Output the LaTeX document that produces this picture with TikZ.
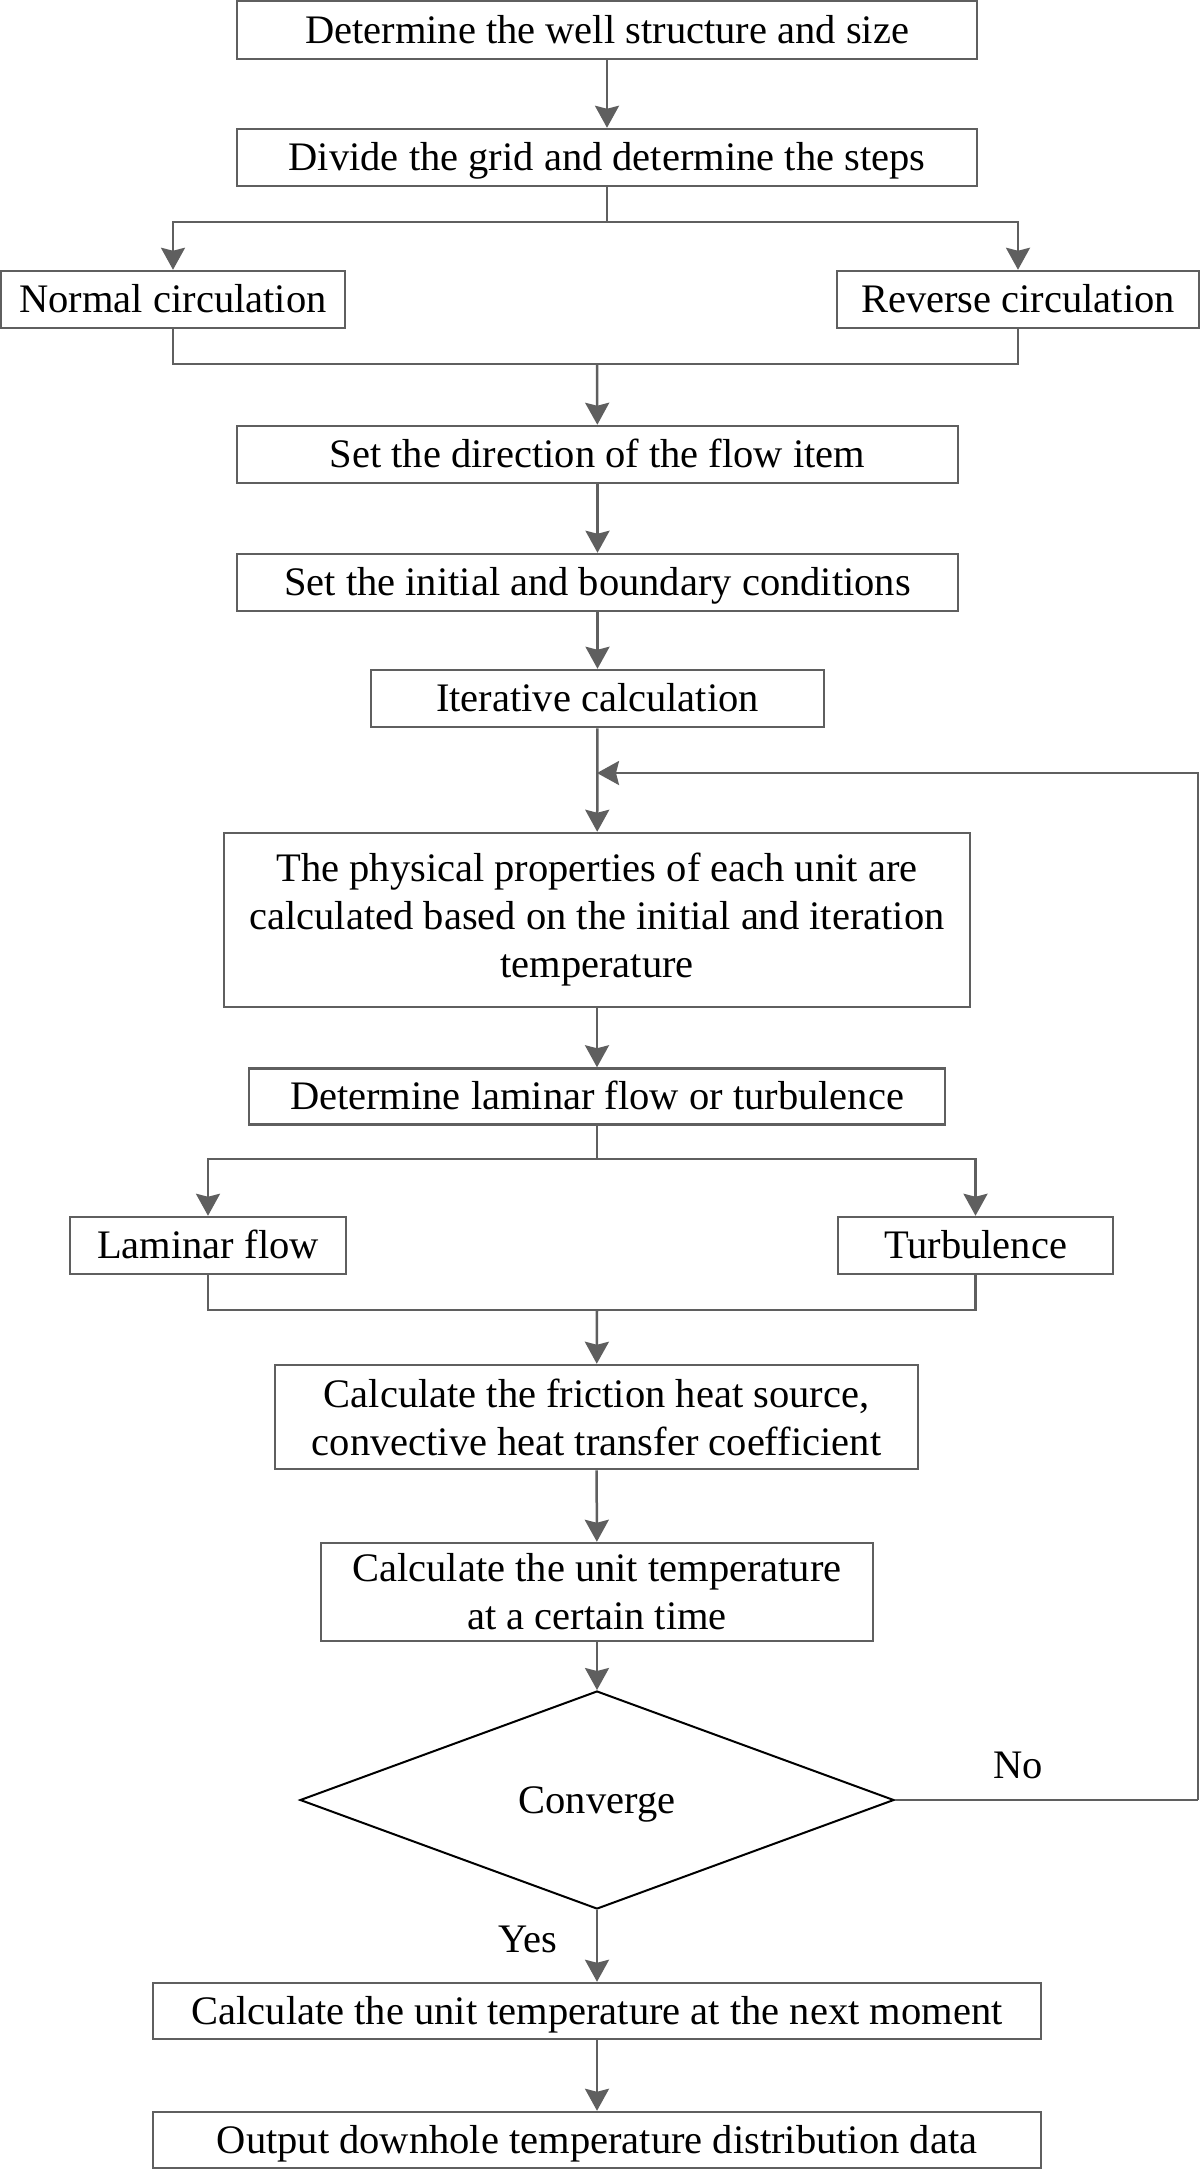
\documentclass[tikz,border=0pt]{standalone}
\usepackage{fontspec}
\setmainfont{Liberation Serif}
\usetikzlibrary{shapes.geometric,arrows.meta}
\definecolor{lgray}{RGB}{95,95,95}
\newcommand{\myfs}{\fontsize{20.25pt}{24pt}\selectfont}
\begin{document}
\begin{tikzpicture}[x=0.5pt,y=0.5pt,
 mbox/.style={draw=lgray,line width=1.25pt,fill=white,inner sep=0pt,align=center,font=\myfs},
 box/.style={mbox,text height=13.4pt,text depth=0pt},
 conn/.style={draw=lgray,line width=1.25pt},
 arr/.style={conn,-{Stealth[length=11pt,width=12pt,inset=1.5pt]}},
 lbl/.style={font=\myfs,inner sep=0pt},
 dec/.style={diamond,draw=black,line width=1pt,inner sep=0pt,aspect=2.72,font=\myfs,text height=13.4pt,text depth=0pt,minimum width=297pt,minimum height=109pt}]
\useasboundingbox (0,0) rectangle (1200,-2170);
\fill[white] (0,0) rectangle (1200,-2170);

\node[box,minimum width=370pt,minimum height=29pt] (b1) at (607,-30) {Determine the well structure and size};
\node[box,minimum width=370pt,minimum height=28.5pt] (b2) at (607,-157.5) {Divide the grid and determine the steps};
\node[box,minimum width=172pt,minimum height=28.5pt] (normal) at (173,-299.5) {Normal circulation};
\node[box,minimum width=181pt,minimum height=28.5pt] (reverse) at (1018,-299.5) {Reverse circulation};
\node[box,minimum width=360.5pt,minimum height=28.5pt] (setdir) at (597.5,-454.5) {Set the direction of the flow item};
\node[box,minimum width=360.5pt,minimum height=28.5pt] (setinit) at (597.5,-582.5) {Set the initial and boundary conditions};
\node[box,minimum width=226.5pt,minimum height=28.5pt] (iter) at (597.5,-698.5) {Iterative calculation};
\node[mbox,minimum width=373pt,minimum height=87pt] (phys) at (597,-920) {The physical properties of each unit are\\calculated based on the initial and iteration\\temperature};
\node[box,minimum width=348pt,minimum height=28pt] (detlam) at (597,-1096.5) {Determine laminar flow or turbulence};
\node[box,minimum width=138pt,minimum height=28.5pt] (laminar) at (208,-1245.5) {Laminar flow};
\node[box,minimum width=137.5pt,minimum height=28.5pt] (turb) at (975.5,-1245.5) {Turbulence};
\node[mbox,minimum width=321.5pt,minimum height=52pt] (fric) at (596.5,-1417) {Calculate the friction heat source,\\convective heat transfer coefficient};
\node[mbox,minimum width=276pt,minimum height=49pt] (cert) at (597,-1592) {Calculate the unit temperature\\at a certain time};
\node[dec] (conv) at (597,-1800) {Converge};
\node[box,minimum width=444pt,minimum height=28pt] (next) at (597,-2011) {Calculate the unit temperature at the next moment};
\node[box,minimum width=444pt,minimum height=28pt] (out) at (597,-2140) {Output downhole temperature distribution data};

\node[lbl] (no) at (1018,-1765) {No};
\node[lbl] (yes) at (528,-1939) {Yes};

\coordinate (s1) at (607,-222);
\coordinate (m1) at (597,-364);
\coordinate (s2) at (597,-1159);
\coordinate (m2) at (597,-1310);
\coordinate (fr) at (1198,-1800);
\coordinate (fb) at (597,-773);

\draw[arr] (b1) -- (b2);
\draw[conn] (b2) -- (s1);
\draw[arr] (s1) -| (normal);
\draw[arr] (s1) -| (reverse);
\draw[conn] (normal) |- (m1) -| (reverse);
\draw[arr] (m1) -- (setdir);
\draw[arr] (setdir) -- (setinit);
\draw[arr] (setinit) -- (iter);
\draw[arr] (iter) -- (phys);
\draw[arr] (phys) -- (detlam);
\draw[conn] (detlam) -- (s2);
\draw[arr] (s2) -| (laminar);
\draw[arr] (s2) -| (turb);
\draw[conn] (laminar) |- (m2) -| (turb);
\draw[arr] (m2) -- (fric);
\draw[arr] (fric) -- (cert);
\draw[arr] (cert) -- (conv);
\draw[arr] (conv) -- (next);
\draw[arr] (next) -- (out);
\draw[conn] (conv.east) -- (fr);
\draw[arr] (fr) |- (fb);
\end{tikzpicture}
\end{document}
